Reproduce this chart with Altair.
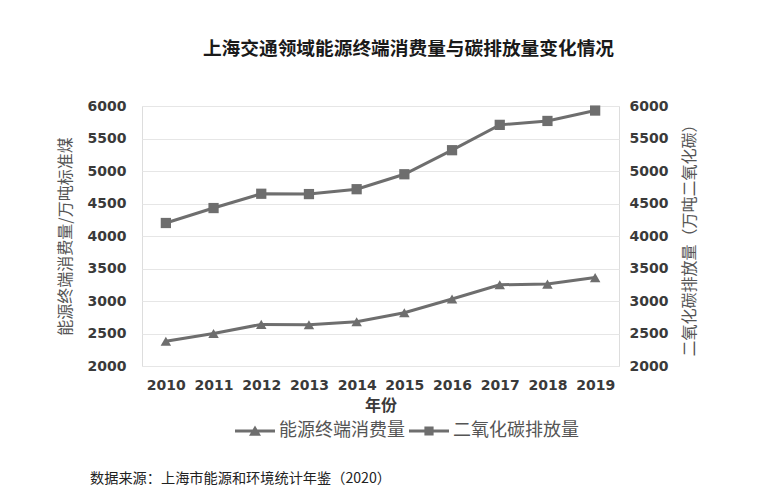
import altair as alt
import pandas as pd

years = ["2010", "2011", "2012", "2013", "2014", "2015", "2016", "2017", "2018", "2019"]
energy = [2380, 2500, 2640, 2635, 2680, 2820, 3030, 3250, 3260, 3360]
co2 = [4200, 4430, 4650, 4645, 4720, 4950, 5320, 5710, 5770, 5930]
series_names = ["能源终端消费量", "二氧化碳排放量"]
y_ticks = [2000, 2500, 3000, 3500, 4000, 4500, 5000, 5500, 6000]

title_text = "上海交通领域能源终端消费量与碳排放量变化情况"
left_title = "能源终端消费量/万吨标准煤"
right_title = "二氧化碳排放量（万吨二氧化碳）"
x_title = "年份"
source_text = "数据来源：上海市能源和环境统计年鉴（2020）"

GRAY = "#6e6e6e"
TEXT = "#3a3a3a"
CJK = "Noto Sans CJK SC"
NUM = "DejaVu Sans"

df_e = pd.DataFrame({"year": years, "value": energy, "series": series_names[0]})
df_c = pd.DataFrame({"year": years, "value": co2, "series": series_names[1]})
df_all = pd.concat([df_e, df_c], ignore_index=True)

x_enc = alt.X(
    "year:O",
    title=x_title,
    axis=alt.Axis(
        labelAngle=0, domain=False, ticks=False, tickSize=0, labelPadding=12,
        labelFont=NUM, labelFontSize=14, labelFontWeight="bold", labelColor=TEXT,
        titleFont=CJK, titleFontSize=16, titleFontWeight="bold", titleColor=TEXT,
        titlePadding=5, grid=False, labelOverlap=False,
    ),
    scale=alt.Scale(padding=0.5),
)

yscale = alt.Scale(domain=[2000, 6000], nice=False, zero=False)

left_axis = alt.Axis(
    values=y_ticks, format="d", domain=False, ticks=False, tickSize=0, labelPadding=16,
    labelFont=NUM, labelFontSize=14, labelFontWeight="bold", labelColor=TEXT,
    titleFont=CJK, titleFontSize=16, titleFontWeight="normal", titleColor="#555555",
    titlePadding=14, grid=True, gridColor="#e6e6e6", gridWidth=1, labelOverlap=False,
)
right_axis = alt.Axis(
    orient="right", values=y_ticks, format="d", domain=False, ticks=False, tickSize=0, labelPadding=10,
    labelFont=NUM, labelFontSize=14, labelFontWeight="bold", labelColor=TEXT,
    titleFont=CJK, titleFontSize=16, titleFontWeight="normal", titleColor="#555555",
    titlePadding=30, titleAngle=270, grid=False, labelOverlap=False,
)

tri_path = "M-1,-0.075 L1,-0.075 L1,0.075 L-1,0.075 Z M-0.3,0.24 L0,-0.28 L0.3,0.24 Z"
sq_path = "M-1,-0.075 L1,-0.075 L1,0.075 L-1,0.075 Z M-0.23,-0.23 L0.23,-0.23 L0.23,0.23 L-0.23,0.23 Z"

y_left = alt.Y("value:Q", title=left_title, scale=yscale, axis=left_axis)

e_base = alt.Chart(df_e).encode(x=x_enc, y=y_left)
e_line = e_base.mark_line(color=GRAY, strokeWidth=3)
e_pts = e_base.mark_point(shape="triangle-up", filled=True, opacity=1, size=110, color=GRAY)

legend_layer = alt.Chart(df_all).mark_point(filled=True, opacity=0, size=1600, color=GRAY).encode(
    x=x_enc,
    y=y_left,
    shape=alt.Shape(
        "series:N",
        scale=alt.Scale(domain=series_names, range=[tri_path, sq_path]),
        legend=alt.Legend(
            title=None, orient="none", direction="horizontal", legendX=93, legendY=305,
            labelFont=CJK, labelFontSize=18, labelColor="#555555", labelOffset=4,
            symbolSize=1600, symbolFillColor=GRAY, symbolStrokeWidth=0, symbolOpacity=1,
            columnPadding=4,
        ),
    ),
)

left_layer = alt.layer(e_line, e_pts, legend_layer)

c_base = alt.Chart(df_c).encode(x=x_enc, y=alt.Y("value:Q", title=right_title, scale=yscale, axis=right_axis))
c_line = c_base.mark_line(color=GRAY, strokeWidth=3)
c_pts = c_base.mark_point(shape="square", filled=True, opacity=1, size=105, color=GRAY)
right_layer = alt.layer(c_line, c_pts)

src = alt.Chart(pd.DataFrame({"t": [source_text]})).mark_text(
    align="left", baseline="middle", font=CJK, fontSize=14.2, color="#222222"
).encode(text="t:N", x=alt.value(-52), y=alt.value(373))

chart = alt.layer(left_layer, right_layer, src).resolve_scale(y="independent").properties(
    width=477,
    height=260,
    title=alt.TitleParams(
        title_text, font=CJK, fontSize=18.7, fontWeight="bold", color="#1a1a1a",
        anchor="middle", offset=40, dx=28,
    ),
    padding={"left": 49, "top": 32, "right": 5, "bottom": 5},
).configure_view(stroke=None).configure(background="white")

chart.save("out.html", embed_options={"renderer": "svg", "actions": False})
